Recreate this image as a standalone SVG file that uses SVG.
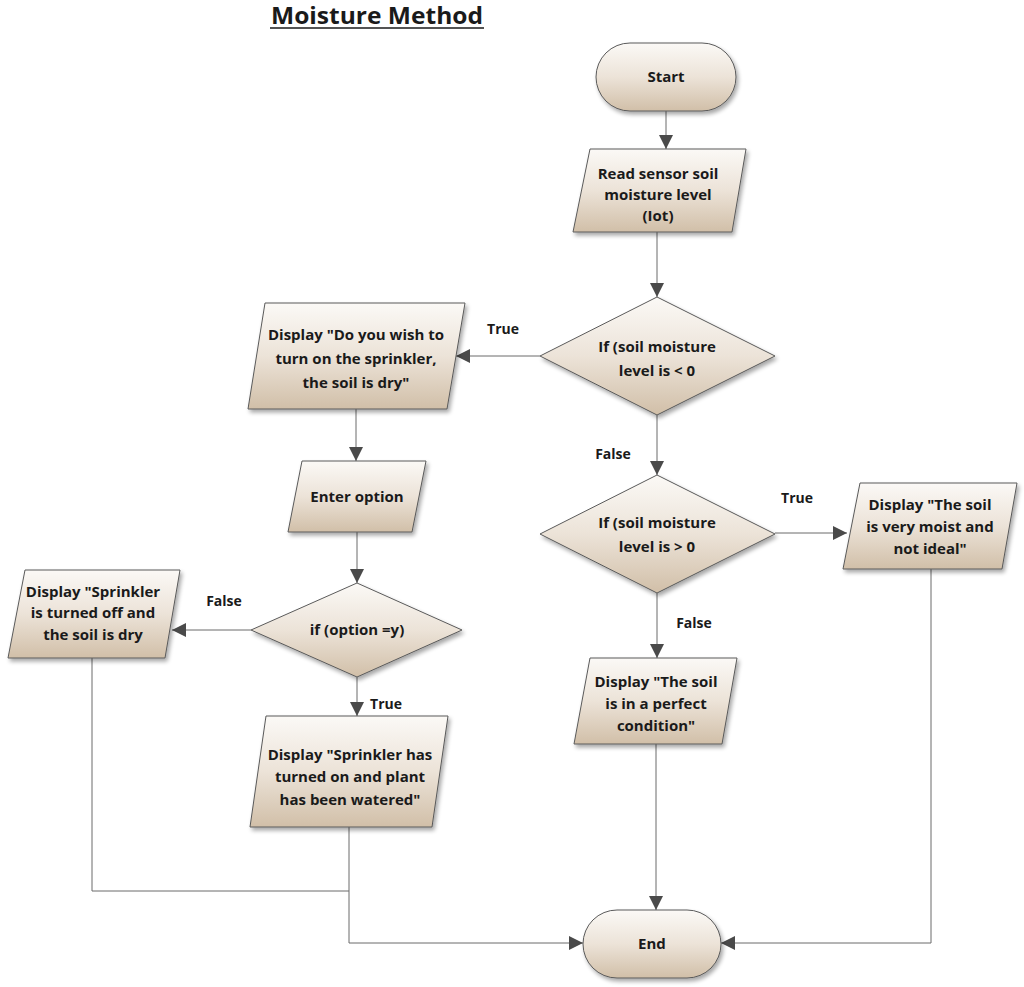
<svg xmlns="http://www.w3.org/2000/svg" width="1024" height="987" viewBox="0 0 1024 987">
<defs>
<linearGradient id="g" x1="0" y1="0" x2="0" y2="1">
<stop offset="0" stop-color="#fbf9f6"/>
<stop offset="0.5" stop-color="#ece3d8"/>
<stop offset="1" stop-color="#d1bfa8"/>
</linearGradient>
<filter id="sh" x="-10%" y="-10%" width="125%" height="130%">
<feGaussianBlur in="SourceAlpha" stdDeviation="2"/>
<feOffset dx="2" dy="3" result="b"/>
<feComponentTransfer><feFuncA type="linear" slope="0.35"/></feComponentTransfer>
<feMerge><feMergeNode/><feMergeNode in="SourceGraphic"/></feMerge>
</filter>
<marker id="ar" viewBox="0 0 10 10" refX="10" refY="5" markerWidth="14" markerHeight="14" markerUnits="userSpaceOnUse" orient="auto">
<path d="M0,0 L10,5 L0,10 z" fill="#4a4a4a"/>
</marker>
</defs>
<style>
.n{fill:url(#g);stroke:#5a5a5a;stroke-width:1;filter:url(#sh)}
.t{font-family:"Open Sans","Noto Sans",sans-serif;font-weight:bold;font-size:15px;fill:#1a1a1a;text-anchor:middle}
.c{fill:none;stroke:#6a6a6a;stroke-width:1}
.a{marker-end:url(#ar)}
.l{font-family:"Open Sans","Noto Sans",sans-serif;font-weight:bold;font-size:14px;fill:#1a1a1a;text-anchor:middle}
</style>
<rect width="1024" height="987" fill="#ffffff"/>
<g id="title">
<text x="377" y="24" font-family="'Open Sans','Noto Sans',sans-serif" font-weight="bold" font-size="24" fill="#1a1a1a" text-anchor="middle" textLength="212" lengthAdjust="spacingAndGlyphs">Moisture Method</text>
<line x1="270" y1="28" x2="484" y2="28" stroke="#1a1a1a" stroke-width="1.5"/>
</g>
<g id="connectors">
<path class="c a" d="M666,111 V149"/>
<path class="c a" d="M657,232 V297"/>
<path class="c a" d="M540,356 H456"/>
<path class="c a" d="M356,409 V461"/>
<path class="c a" d="M357,532 V583"/>
<path class="c a" d="M251,630 H172"/>
<path class="c a" d="M357,677 V716"/>
<path class="c a" d="M657,415 V475"/>
<path class="c a" d="M775,533 H847"/>
<path class="c a" d="M657,593 V658"/>
<path class="c a" d="M656,744 V910"/>
<path class="c" d="M92,658 V891 H349"/>
<path class="c a" d="M349,827 V943 H583"/>
<path class="c a" d="M931,569 V943 H721"/>
<text class="l" x="503" y="334">True</text>
<text class="l" x="613" y="459">False</text>
<text class="l" x="797" y="503">True</text>
<text class="l" x="694" y="628">False</text>
<text class="l" x="224" y="606">False</text>
<text class="l" x="386" y="709">True</text>
</g>
<g id="start">
<rect class="n" x="596" y="43" width="140" height="68" rx="34"/>
<text class="t" x="666" y="82">Start</text>
</g>
<g id="read">
<path class="n" d="M590,149 H746 L732,232 H573 Z"/>
<text class="t" x="658" y="179">Read sensor soil</text>
<text class="t" x="658" y="200">moisture level</text>
<text class="t" x="658" y="221">(Iot)</text>
</g>
<g id="dec1">
<path class="n" d="M657,297 L775,356 L657,415 L540,356 Z"/>
<text class="t" x="657" y="352">If (soil moisture</text>
<text class="t" x="657" y="376">level is &lt; 0</text>
</g>
<g id="ask">
<path class="n" d="M265,303 H465 L447,409 H248 Z"/>
<text class="t" x="356" y="340">Display "Do you wish to</text>
<text class="t" x="356" y="364">turn on the sprinkler,</text>
<text class="t" x="356" y="388">the soil is dry"</text>
</g>
<g id="enter">
<path class="n" d="M302,461 H426 L412,532 H288 Z"/>
<text class="t" x="357" y="502">Enter option</text>
</g>
<g id="dec3">
<path class="n" d="M357,583 L462,630 L357,677 L251,630 Z"/>
<text class="t" x="357" y="635">if (option =y)</text>
</g>
<g id="off">
<path class="n" d="M25,570 H180 L165,658 H8 Z"/>
<text class="t" x="93" y="597">Display "Sprinkler</text>
<text class="t" x="93" y="618">is turned off and</text>
<text class="t" x="93" y="640">the soil is dry</text>
</g>
<g id="on">
<path class="n" d="M266,716 H448 L432,827 H250 Z"/>
<text class="t" x="350" y="760">Display "Sprinkler has</text>
<text class="t" x="350" y="782">turned on and plant</text>
<text class="t" x="350" y="805">has been watered"</text>
</g>
<g id="dec2">
<path class="n" d="M657,475 L775,534 L657,593 L540,534 Z"/>
<text class="t" x="657" y="528">If (soil moisture</text>
<text class="t" x="657" y="552">level is &gt; 0</text>
</g>
<g id="moist">
<path class="n" d="M860,483 H1017 L1002,569 H843 Z"/>
<text class="t" x="930" y="510">Display "The soil</text>
<text class="t" x="930" y="532">is very moist and</text>
<text class="t" x="930" y="554">not ideal"</text>
</g>
<g id="perfect">
<path class="n" d="M590,658 H737 L722,744 H574 Z"/>
<text class="t" x="656" y="687">Display "The soil</text>
<text class="t" x="656" y="709">is in a perfect</text>
<text class="t" x="656" y="731">condition"</text>
</g>
<g id="end">
<rect class="n" x="583" y="910" width="138" height="68" rx="34"/>
<text class="t" x="652" y="949">End</text>
</g>
</svg>
